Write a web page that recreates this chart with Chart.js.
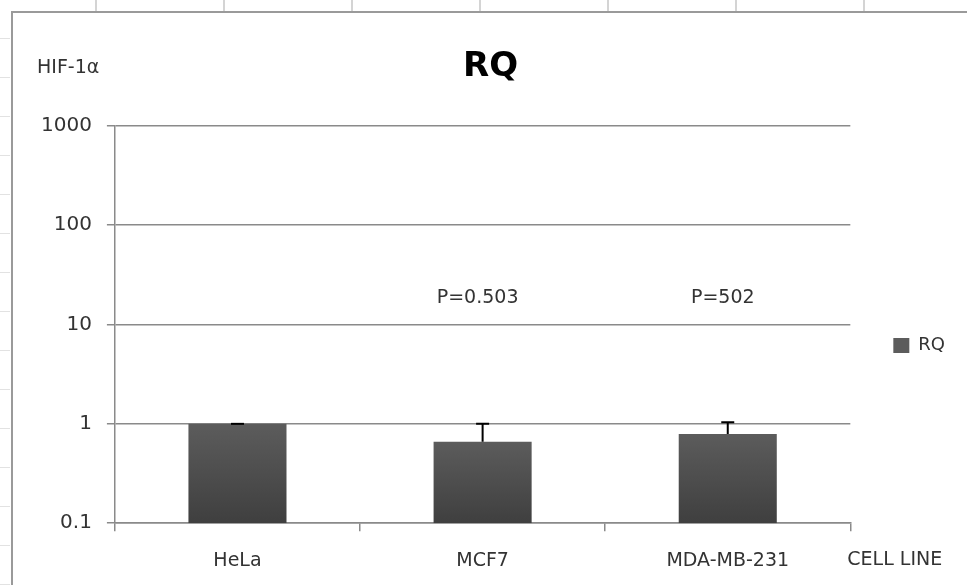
<!DOCTYPE html>
<html>
<head>
<meta charset="utf-8">
<script src="https://cdn.jsdelivr.net/npm/chart.js@4"></script>
<style>
  body { margin: 0; background: #fff; overflow: hidden; width: 967px; height: 585px; position: relative; }
  #sheetTop {
    position: absolute; left: 0; top: 0; width: 967px; height: 11px;
    background: repeating-linear-gradient(to right, transparent 0 95px, #d4d4d4 95px 97px, transparent 97px 128px);
  }
  #sheetLeft {
    position: absolute; left: 0; top: 0; width: 10px; height: 585px;
    background: repeating-linear-gradient(to bottom, transparent 0 38px, #e2e2e2 38px 39px, transparent 39px 39px);
  }
  #frame {
    position: absolute; left: 11px; top: 11px; width: 1000px; height: 600px;
    border-left: 2px solid #9a9a9a; border-top: 2px solid #9a9a9a; background: #fff;
  }
  #box { position: absolute; left: 13px; top: 13px; width: 964px; height: 572px; }
</style>
</head>
<body>
<div id="sheetTop"></div>
<div id="sheetLeft"></div>
<div id="frame"></div>
<div id="box"><canvas id="myChart"></canvas></div>
<script>
// valeurs
var lignes = ['HeLa', 'MCF7', 'MDA-MB-231'];
var rq = [1.0, 0.66, 0.79];
var rqHaut = [1.0, 1.0, 1.04];        // haut des barres d'erreur
var pValeurs = ['', 'P=0.503', 'P=502'];
var graduations = [0.1, 1, 10, 100, 1000];

const ctx = document.getElementById('myChart');
var police = "'DejaVu Sans', sans-serif";

// degrade des barres, du bas (fonce) vers le haut (plus clair)
function couleurBarre(context) {
  var chart = context.chart;
  if (context.type !== 'data' || !chart.chartArea) return '#4b4b4b';
  var y = chart.scales.y;
  var haut = y.getPixelForValue(context.raw);
  var bas = chart.chartArea.bottom;
  var g = chart.ctx.createLinearGradient(0, bas, 0, haut);
  g.addColorStop(0, '#3f3f3f');
  g.addColorStop(1, '#5c5c5c');
  return g;
}

// barres d'erreur + textes en plus
var extras = {
  id: 'extras',
  afterDatasetsDraw: function (chart) {
    var c = chart.ctx;
    var meta = chart.getDatasetMeta(0);
    var y = chart.scales.y;
    c.save();
    c.strokeStyle = '#000';
    c.lineWidth = 2;
    for (var i = 0; i < rqHaut.length; i++) {
      var bar = meta.data[i];
      var yh = y.getPixelForValue(rqHaut[i]);
      c.beginPath();
      c.moveTo(bar.x, bar.y);
      c.lineTo(bar.x, yh);
      c.moveTo(bar.x - 6.5, yh);
      c.lineTo(bar.x + 6.5, yh);
      c.stroke();
    }
    c.restore();
  },
  afterDraw: function (chart) {
    var c = chart.ctx;
    var x = chart.scales.x;
    var y = chart.scales.y;
    var zone = chart.chartArea;
    c.save();
    c.fillStyle = '#333';
    c.font = '19px ' + police;
    c.textBaseline = 'middle';
    c.textAlign = 'center';
    for (var i = 0; i < pValeurs.length; i++) {
      if (pValeurs[i]) c.fillText(pValeurs[i], x.getPixelForValue(i) - 5, y.getPixelForValue(10) - 26);
    }
    c.textAlign = 'left';
    c.fillText('HIF-1\u03b1', 24, 55);
    c.fillText('CELL LINE', zone.right - 3, zone.bottom + 37);
    c.restore();
  }
};

new Chart(ctx, {
  type: 'bar',
  data: {
    labels: lignes,
    datasets: [{
      label: 'RQ',
      data: rq,
      backgroundColor: couleurBarre,
      borderWidth: 0,
      barPercentage: 0.4,
      categoryPercentage: 1
    }]
  },
  options: {
    responsive: true,
    maintainAspectRatio: false,
    animation: false,
    layout: { padding: { left: 13, right: 22, top: 0, bottom: -5 } },
    plugins: {
      tooltip: { enabled: false },
      title: {
        display: true,
        text: 'RQ',
        color: '#000',
        font: { family: police, size: 34, weight: 'bold' },
        padding: { top: 34, bottom: 38 }
      },
      legend: {
        position: 'right',
        title: { display: true, text: ' ', font: { size: 10 }, padding: { top: 38, bottom: 38 } },
        labels: {
          color: '#333',
          boxWidth: 16,
          boxHeight: 15,
          padding: 43,
          font: { family: police, size: 18 }
        }
      }
    },
    scales: {
      x: {
        grid: { offset: true, drawOnChartArea: false, drawTicks: true, tickLength: 8, color: '#8a8a8a', lineWidth: 1.5 },
        border: { display: true, color: '#8a8a8a', width: 1.5 },
        ticks: { color: '#333', padding: 18, font: { family: police, size: 19 } }
      },
      y: {
        type: 'logarithmic',
        min: 0.1,
        max: 1000,
        afterBuildTicks: function (scale) {
          scale.ticks = graduations.map(function (v) { return { value: v, major: true }; });
        },
        grid: { color: '#8a8a8a', lineWidth: 1.5, tickLength: 8 },
        border: { display: true, color: '#8a8a8a', width: 1.5 },
        ticks: {
          color: '#333',
          padding: 15,
          font: { family: police, size: 20 },
          callback: function (v) { return String(v); }
        }
      }
    }
  },
  plugins: [extras]
});
</script>
</body>
</html>
